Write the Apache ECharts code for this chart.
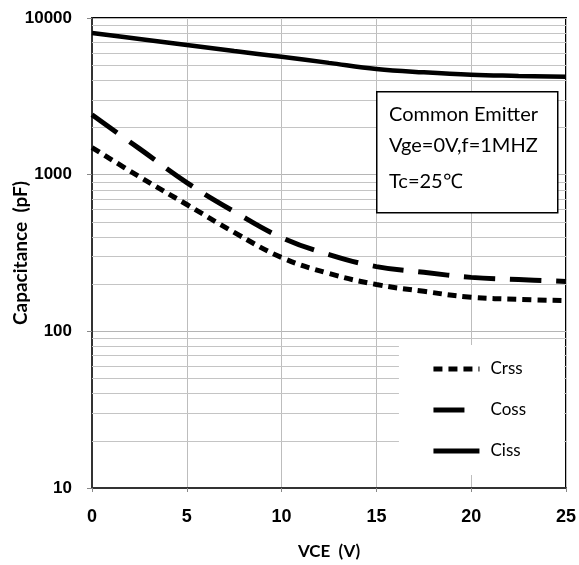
<!DOCTYPE html>
<html><head><meta charset="utf-8">
<script src="https://cdn.jsdelivr.net/npm/echarts@6/dist/echarts.min.js"></script>
<style>html,body{margin:0;padding:0;background:#fff}#c{width:579px;height:565px}</style>
</head><body><div id="c"></div>
<script>
var vce = [0, 2.5, 5, 7.5, 10, 12.5, 15, 17.5, 20, 22.5, 25];
var crss = [1490, 970, 645, 428, 296, 234, 199, 180, 165, 160, 157];
var coss = [2410, 1466, 890, 581, 397, 309, 259, 238, 221, 214, 208];
var ciss = [8030, 7350, 6730, 6160, 5650, 5170, 4730, 4500, 4340, 4270, 4210];
var minorGrid = [20,30,40,50,60,70,80,90,200,300,400,500,600,700,800,900,2000,3000,4000,5000,6000,7000,8000,9000];
var xTicks = [0, 5, 10, 15, 20, 25];
var yTicks = [10, 100, 1000, 10000];
var noteLines = ['Common Emitter', 'Vge=0V,f=1MHZ', 'Tc=25℃'];

function pairs(xs, ys){ return xs.map(function(x,i){ return [x, ys[i]]; }); }

var chart = echarts.init(document.getElementById('c'), null, {renderer:'canvas'});
chart.setOption({
  animation: false,
  backgroundColor: '#fff',
  grid: {left: 92, right: 13, top: 18, bottom: 77, outerBoundsMode: 'none', containLabel: false,
    show: true, borderColor: '#000', borderWidth: 2, backgroundColor: 'transparent'},
  xAxis: {
    type: 'value', min: xTicks[0], max: xTicks[xTicks.length-1], interval: 5,
    name: 'VCE  (V)', nameLocation: 'middle', nameGap: 55, nameMoveOverlap: false,
    nameTextStyle: {fontFamily: 'Lato', fontWeight: 'bold', fontSize: 17, color: '#000'},
    axisLine: {lineStyle: {color: '#333', width: 2}},
    axisTick: {show: true, length: 4, lineStyle: {color: '#888'}},
    axisLabel: {fontFamily: 'Liberation Sans', fontWeight: 'bold', fontSize: 18, color: '#000', margin: 20},
    splitLine: {show: true, lineStyle: {color: '#bdbdbd', width: 1}}
  },
  yAxis: {
    type: 'log', logBase: 10, min: yTicks[0], max: yTicks[yTicks.length-1],
    name: 'Capacitance  (pF)', nameLocation: 'middle', nameGap: 62, nameMoveOverlap: false,
    nameTextStyle: {fontFamily: 'Lato', fontWeight: 'bold', fontSize: 19, color: '#000'},
    axisLine: {show: true, lineStyle: {color: '#333', width: 2}},
    axisTick: {show: true, length: 5, lineStyle: {color: '#888'}},
    axisLabel: {fontFamily: 'Liberation Sans', fontWeight: 'bold', fontSize: 17, color: '#000', margin: 20,
      formatter: function(v){ return String(Math.round(v)); }},
    splitLine: {show: true, lineStyle: {color: '#b5b5b5', width: 1}}
  },
  legend: {
    orient: 'vertical', right: 15, bottom: 90, z: 10,
    backgroundColor: '#fff', padding: [14, 38, 14, 32],
    itemWidth: 46, itemHeight: 12, itemGap: 21,
    itemStyle: {opacity: 0},
    lineStyle: {width: 5},
    textStyle: {fontFamily: 'Lato', fontSize: 17, color: '#000', lineHeight: 20, padding: [0, 0, 0, 6]},
    data: ['Crss', 'Coss', 'Ciss']
  },
  series: [
    {name: 'grid-minor', type: 'line', data: [], silent: true, z: 1,
      markLine: {silent: true, symbol: 'none', label: {show: false},
        lineStyle: {color: '#c4c4c4', width: 1, type: 'solid'},
        data: minorGrid.map(function(v){ return {yAxis: v}; })}},
    {name: 'Crss', type: 'line', data: pairs(vce, crss), smooth: 0.4, showSymbol: false, symbol: 'none',
      lineStyle: {color: '#000', width: 5, type: [9, 6], cap: 'butt'}, itemStyle: {color: '#000'}, z: 5},
    {name: 'Coss', type: 'line', data: pairs(vce, coss), smooth: 0.4, showSymbol: false, symbol: 'none',
      lineStyle: {color: '#000', width: 5, type: [31, 15], cap: 'butt'}, itemStyle: {color: '#000'}, z: 5},
    {name: 'Ciss', type: 'line', data: pairs(vce, ciss), smooth: 0.4, showSymbol: false, symbol: 'none',
      lineStyle: {color: '#000', width: 4.5, type: 'solid'}, itemStyle: {color: '#000'}, z: 5}
  ],
  graphic: [
    {type: 'rect', left: 376, top: 91, z: 100, shape: {width: 181, height: 121},
      style: {fill: '#fff', stroke: '#000', lineWidth: 1.5}},
    {type: 'text', left: 389, top: 105, z: 101, style: {text: noteLines[0], font: '20px Lato', fill: '#000'}},
    {type: 'text', left: 389, top: 136, z: 101, style: {text: noteLines[1], font: '20px Lato', fill: '#000'}},
    {type: 'text', left: 389, top: 172, z: 101, style: {text: noteLines[2], font: '20px Lato', fill: '#000'}}
  ]
});
</script></body></html>
